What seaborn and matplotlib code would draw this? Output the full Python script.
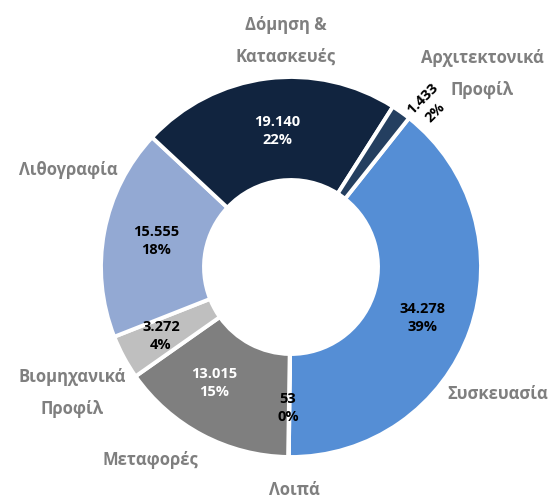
import matplotlib
matplotlib.use("Agg")
import matplotlib.pyplot as plt
import seaborn as sns

# Data (values in tonnes, Greek thousand separator)
categories = ["Συσκευασία", "Λοιπά", "Μεταφορές", "Βιομηχανικά\nΠροφίλ",
              "Λιθογραφία", "Δόμηση &\nΚατασκευές", "Αρχιτεκτονικά\nΠροφίλ"]
values = [34278, 53, 13015, 3272, 15555, 19140, 1433]
value_labels = ["34.278", "53", "13.015", "3.272", "15.555", "19.140", "1.433"]
pct_labels = ["39%", "0%", "15%", "4%", "18%", "22%", "2%"]
colors = ["#558ED5", "#A6A6A6", "#7F7F7F", "#BFBFBF", "#93A9D3", "#11243F", "#243F60"]
value_text_colors = ["black", "black", "white", "black", "black", "white", "black"]

# Layout (pixel positions of the text, measured from top-left)
W, H = 554, 501
value_pos = [(422, 318), (288, 408), (214, 383), (161, 336), (156, 241), (277, 131), (429, 106)]
value_rot = [0, 0, 0, 0, 0, 0, 45]
cat_pos = [(498, 394), (294, 490), (150, 460), (72, 393), (68, 170), (286, 41), (482, 74)]


def px(x, y):
    return x, H - y


sns.set_theme(style="white")
plt.rcParams['font.family'] = ['Open Sans', 'DejaVu Sans']

fig = plt.figure(figsize=(W / 100, H / 100), dpi=100)
ax = fig.add_axes([0, 0, 1, 1])

ax.pie(values, colors=colors, startangle=51.6, counterclock=False,
       center=px(291, 267), radius=190,
       wedgeprops=dict(width=103, edgecolor="white", linewidth=2.8))

for lab, pct, pos, rot, c in zip(value_labels, pct_labels, value_pos, value_rot, value_text_colors):
    ax.text(*px(*pos), f"{lab}\n{pct}", ha="center", va="center", rotation=rot,
            fontsize=10.5, fontweight="bold", color=c, linespacing=1.45)

for cat, pos in zip(categories, cat_pos):
    ax.text(*px(*pos), cat, ha="center", va="center", fontsize=12,
            fontweight="bold", color="#7F7F7F", linespacing=2.0)

ax.set_xlim(0, W)
ax.set_ylim(0, H)
ax.set_aspect("equal")
ax.axis("off")

fig.savefig("out.png", dpi=100)
